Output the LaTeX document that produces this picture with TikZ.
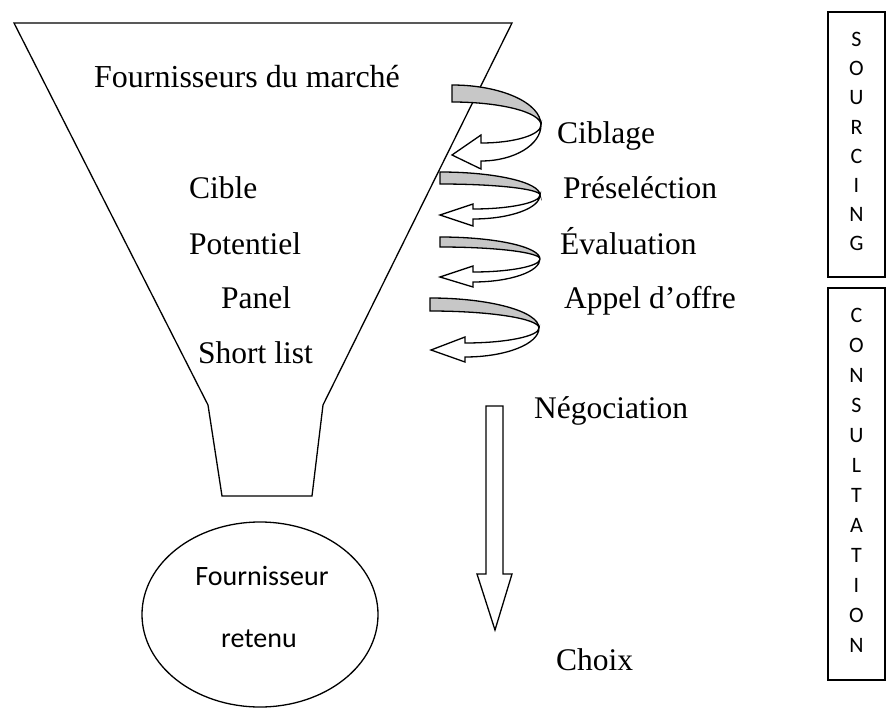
\documentclass[tikz,border=0pt]{standalone}
\usepackage{fontspec}
\usetikzlibrary{shapes.geometric}
\setmainfont{Liberation Serif}
\newfontfamily\calibrifont{Carlito}
\begin{document}
\begin{tikzpicture}[x=1pt,y=-1pt,
  outline/.style={draw=black, line width=1.3pt, line join=miter},
  band/.style={outline, fill=black!22},
  front/.style={outline, fill=white},
  lbl/.style={anchor=base west, inner sep=0pt, font=\fontsize{31.5}{37}\selectfont},
  title/.style={anchor=base west, inner sep=0pt, font=\fontsize{32}{38}\selectfont},
  inlbl/.style={anchor=base, inner sep=0pt, font=\calibrifont\fontsize{28}{34}\selectfont},
  vlbl/.style={anchor=base, inner sep=0pt, font=\calibrifont\fontsize{22}{29}\selectfont}]
\useasboundingbox (0,0) rectangle (887,709);

% funnel of candidate suppliers
\draw[outline] (14,23) -- (512,23) -- (323,405) -- (312,496) -- (222,496) -- (208,405) -- cycle;

% curled arrows: grey back ribbon, then white front with the head
\foreach \xL/\yT/\yB/\xR/\yM/\xH/\yU/\yD/\yBT/\yBB/\xT/\yTip in
  {452/85/102/541/125/481/143/161/135/169/452/155,
   440/172/184/540/195/473/209/219/204/226/440/215,
   440/237/247/540/259/473/272/282/266/287/440/277,
   430/298/311/539/328/465/343/357/337/362/431/350}{
  \draw[band] (\xL,\yT) .. controls ({\xL+0.552*(\xR-\xL)},\yT) and (\xR,{\yM-0.552*(\yM-\yT)}) .. (\xR,\yM)
     .. controls (\xR,{\yM-0.552*(\yM-\yB)}) and ({\xL+0.552*(\xR-\xL)},\yB) .. (\xL,\yB) -- cycle;
  \draw[front] (\xR,\yM) .. controls (\xR,{\yM+0.552*(\yD-\yM)}) and ({\xH+0.552*(\xR-\xH)},\yD) .. (\xH,\yD)
     -- (\xH,\yBB) -- (\xT,\yTip) -- (\xH,\yBT) -- (\xH,\yU)
     .. controls ({\xH+0.552*(\xR-\xH)},\yU) and (\xR,{\yM+0.552*(\yU-\yM)}) .. (\xR,\yM) -- cycle;
}

% block arrow from negotiation down to the choice
\draw[front] (486,406) -- (503,406) -- (503,574) -- (512,574) -- (495,630) -- (477,574) -- (486,574) -- cycle;

% texts inside the funnel
\node[title] (market) at (94,88) {Fournisseurs du marché};
\node[lbl] (cible) at (189,198) {Cible};
\node[lbl] (potentiel) at (189,254) {Potentiel};
\node[lbl] (panel) at (221,308) {Panel};
\node[lbl] (short) at (198,363) {Short list};

% stage labels
\node[lbl] (ciblage) at (557,143) {Ciblage};
\node[lbl] (presel) at (563,198) {Préseléction};
\node[lbl] (evaluation) at (560,254) {Évaluation};
\node[lbl] (appel) at (564,308) {Appel d’offre};
\node[lbl] (nego) at (534,418) {Négociation};
\node[lbl] (choix) at (556,670) {Choix};

% retained supplier
\node[draw, line width=1.3pt, ellipse, minimum width=236pt, minimum height=185pt, inner sep=0pt] (retenu) at (260,614.5) {};
\node[inlbl] (four) at (262,585) {Fournisseur};
\node[inlbl] (ret) at (259,647) {retenu};

% phase boxes
\draw[outline] (828,12) rectangle (885,277);
\draw[outline] (828,288) rectangle (885,680);
\foreach \ch [count=\i from 0] in {S,O,U,R,C,I,N,G}
  \node[vlbl] (src\i) at (856.5,{47+29*\i}) {\ch};
\foreach \ch [count=\i from 0] in {C,O,N,S,U,L,T,A,T,I,O,N}
  \node[vlbl] (cons\i) at (856.5,{322+30*\i}) {\ch};
\end{tikzpicture}
\end{document}
